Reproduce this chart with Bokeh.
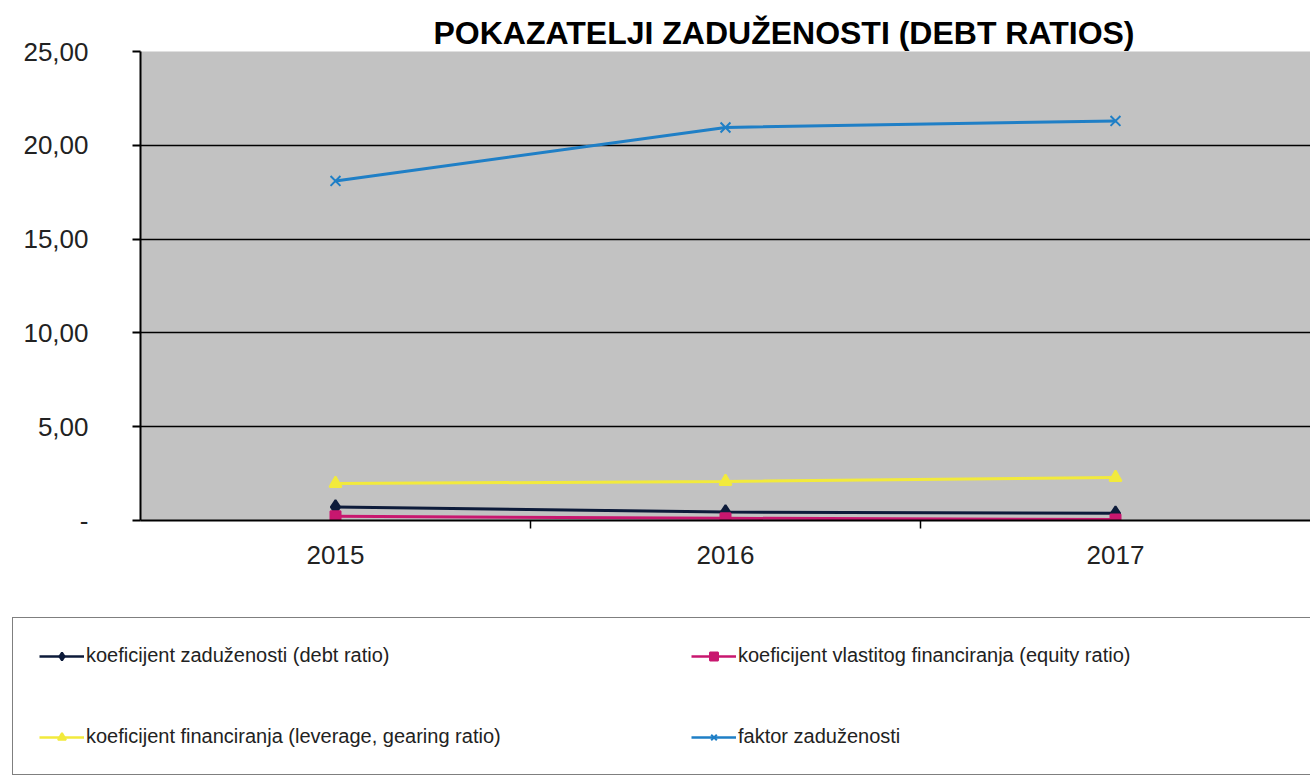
from bokeh.plotting import figure
from bokeh.layouts import column, row
from bokeh.models import (ColumnDataSource, Legend, LegendItem, FixedTicker, Range1d, Title)
from bokeh.embed import file_html
from bokeh.resources import INLINE

# ---- data ----
years = ["2015", "2016", "2017"]
debt_ratio = [0.72, 0.45, 0.38]
equity_ratio = [0.22, 0.12, 0.05]
leverage_ratio = [1.97, 2.08, 2.29]
faktor = [18.1, 20.95, 21.3]
y_ticks = [0, 5, 10, 15, 20, 25]
y_tick_labels = ["-", "5,00", "10,00", "15,00", "20,00", "25,00"]

names = [
    "koeficijent zaduženosti (debt ratio)",
    "koeficijent vlastitog financiranja (equity ratio)",
    "koeficijent financiranja (leverage, gearing ratio)",
    "faktor zaduženosti",
]

x = [i + 0.5 for i in range(len(years))]

FONT = "Liberation Sans"
W = 1310

p = figure(width=W, height=614, output_backend="svg", toolbar_location=None,
           x_range=Range1d(0, 3), y_range=Range1d(0, 25),
           min_border_left=140, min_border_right=0, min_border_top=51,
           min_border_bottom=94, border_fill_color="white")
p.outline_line_color = None
p.background_fill_color = "#c2c2c2"

p.title = Title(text="POKAZATELJI ZADUŽENOSTI (DEBT RATIOS)", align="left", offset=293,
                text_font=FONT, text_font_size="32px", text_font_style="bold",
                text_color="black", standoff=1)

# axes
p.yaxis.ticker = FixedTicker(ticks=y_ticks)
p.yaxis.major_label_overrides = {t: l for t, l in zip(y_ticks, y_tick_labels)}
p.yaxis.major_label_text_font = FONT
p.yaxis.major_label_text_font_size = "26px"
p.yaxis.major_label_text_color = "#222222"
p.yaxis.major_label_standoff = 44
p.yaxis.major_tick_in = 0
p.yaxis.major_tick_out = 8
p.yaxis.minor_tick_line_color = None
p.yaxis.axis_line_color = "black"
p.yaxis.axis_line_width = 2
p.yaxis.major_tick_line_width = 2

p.xaxis.ticker = FixedTicker(ticks=x, minor_ticks=[1, 2])
p.xaxis.major_label_overrides = {xi: yr for xi, yr in zip(x, years)}
p.xaxis.major_label_text_font = FONT
p.xaxis.major_label_text_font_size = "26px"
p.xaxis.major_label_text_color = "#222222"
p.xaxis.major_label_standoff = 17
p.xaxis.major_tick_line_color = None
p.xaxis.major_tick_out = 8
p.xaxis.minor_tick_in = 0
p.xaxis.minor_tick_out = 8
p.xaxis.minor_tick_line_color = "black"
p.xaxis.minor_tick_line_width = 1.5
p.xaxis.axis_line_color = "black"
p.xaxis.axis_line_width = 2

p.xgrid.grid_line_color = None
p.ygrid.ticker = FixedTicker(ticks=y_ticks)
p.ygrid.grid_line_color = "black"
p.ygrid.grid_line_width = 1.6
p.ygrid.grid_line_alpha = 1

series = [
    (debt_ratio, "#0d1b3a", "diamond", 14),
    (equity_ratio, "#c8176f", "square", 10),
    (leverage_ratio, "#f2ea3c", "triangle", 12),
    (faktor, "#1f7fc6", "x", 14),
]

# legend strip below the chart: its ranges lie far from the data, so only the legend shows
lf = figure(width=W, height=162, output_backend="svg", toolbar_location=None,
            x_range=Range1d(1000, 1001), y_range=Range1d(1000, 1001),
            x_axis_location=None, y_axis_location=None,
            min_border_left=0, min_border_right=0, min_border_top=0, min_border_bottom=0)
lf.outline_line_color = None
lf.grid.visible = False

items = []
for (vals, color, marker, size), name in zip(series, names):
    src = ColumnDataSource(dict(x=x, y=vals))
    p.line("x", "y", source=src, line_color=color, line_width=3)
    p.scatter("x", "y", source=src, marker=marker, size=size,
              fill_color=color, line_color=color, line_width=2)
    lr = lf.line("x", "y", source=src, line_color=color, line_width=2.5)
    mr = lf.scatter("x", "y", source=src, marker=marker, size=size - 2,
                    fill_color=color, line_color=color, line_width=2)
    items.append(LegendItem(label=name, renderers=[lr, mr]))

# legend fills column by column: reorder so rows read (0,1) / (2,3)
order = [0, 2, 1, 3]
legend = Legend(items=[items[i] for i in order], ncols=2, location=(12, 1), margin=0,
                glyph_width=45, glyph_height=20, label_standoff=2,
                label_width=547, label_height=20, spacing=58, padding=26,
                label_text_font=FONT, label_text_font_size="20px",
                label_text_color="#222222",
                border_line_color="black", border_line_width=1.5,
                background_fill_color="white", background_fill_alpha=1)
lf.add_layout(legend, "center")

layout = column(p, row(lf), spacing=0)
open("out.html", "w").write(file_html(layout, INLINE))
